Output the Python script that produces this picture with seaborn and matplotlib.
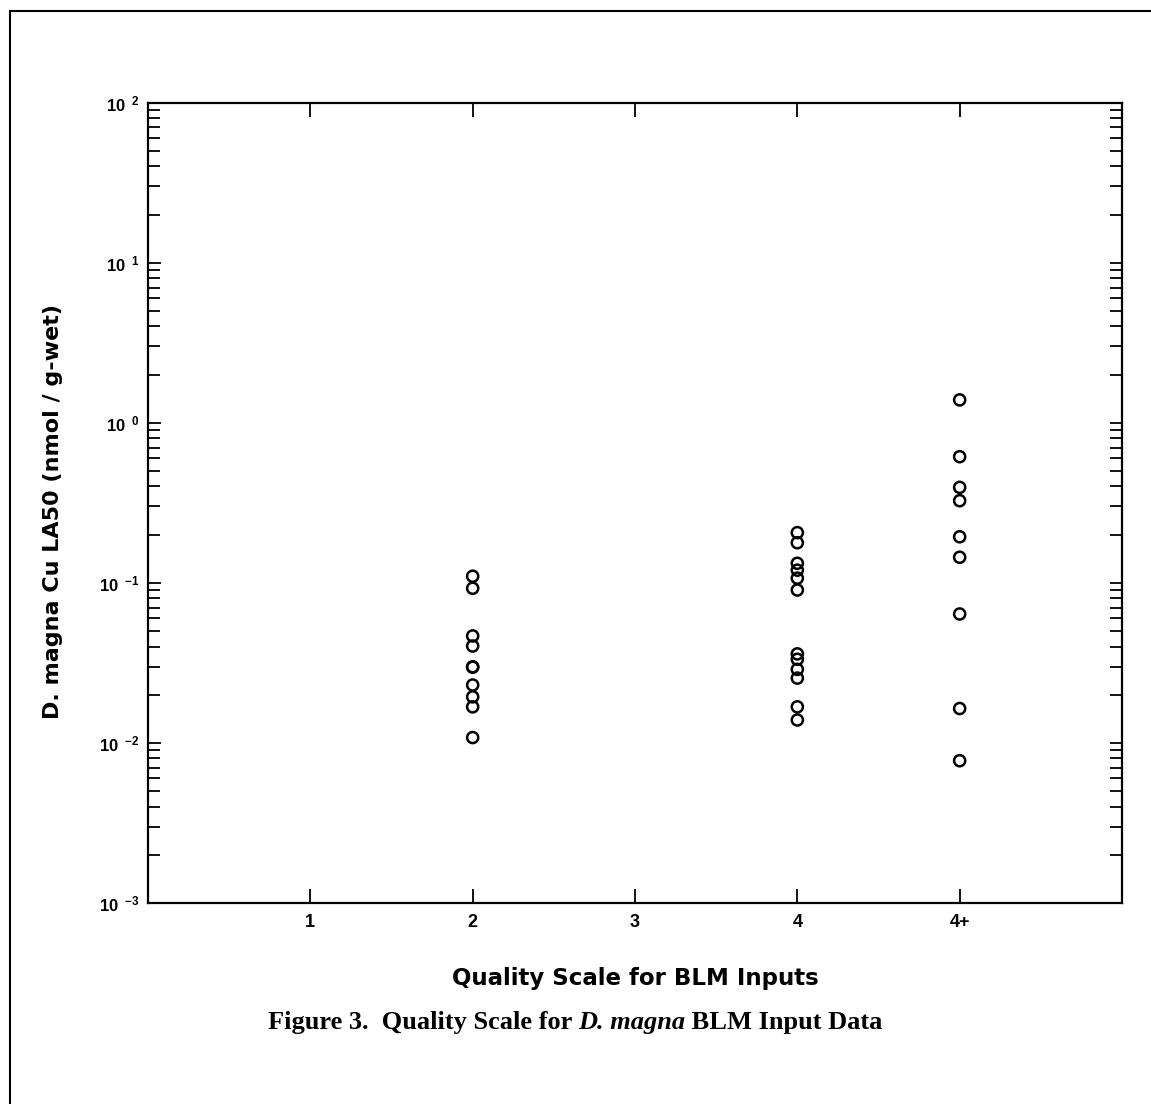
import numpy as np
import pandas as pd
import matplotlib
matplotlib.use("Agg")
import matplotlib.pyplot as plt
import matplotlib.ticker as mticker
from matplotlib.lines import Line2D
import seaborn as sns

# ---- data ----
categories = ["1", "2", "3", "4", "4+"]
q2_values = [0.110, 0.0925, 0.0466, 0.0403, 0.0299, 0.0297, 0.0230, 0.0194, 0.0168, 0.0108]
q4_values = [0.206, 0.178, 0.1325, 0.120, 0.107, 0.0902, 0.0360, 0.0333, 0.0288, 0.0254, 0.0168, 0.0139]
q4p_values = [1.39, 0.614, 0.395, 0.326, 0.194, 0.1445, 0.0639, 0.0164, 0.00774]
y_ticks = [1e-3, 1e-2, 1e-1, 1e0, 1e1, 1e2]

df = pd.DataFrame({
    "quality": ["2"] * len(q2_values) + ["4"] * len(q4_values) + ["4+"] * len(q4p_values),
    "la50": q2_values + q4_values + q4p_values,
})

sns.set_theme(style="white")
plt.rcParams["font.family"] = ["Liberation Sans", "DejaVu Sans"]
plt.rcParams["mathtext.fontset"] = "custom"
plt.rcParams["mathtext.rm"] = "Liberation Sans:bold"
plt.rcParams["mathtext.bf"] = "Liberation Sans:bold"
plt.rcParams["mathtext.it"] = "Liberation Sans:bold"
plt.rcParams["mathtext.sf"] = "Liberation Sans:bold"
for key in ["text.color", "axes.labelcolor", "xtick.color", "ytick.color", "axes.edgecolor"]:
    plt.rcParams[key] = "black"

fig = plt.figure(figsize=(11.51, 11.04), dpi=100)
fig.patch.set_facecolor("white")
ax = fig.add_axes([0.1286, 0.1821, 0.9748 - 0.1286, 0.907 - 0.1821])

sns.stripplot(data=df, x="quality", y="la50", order=categories, jitter=False,
              color="black", size=8, linewidth=1.8, edgecolor="black", ax=ax)
for coll in ax.collections:
    coll.set_facecolor("none")
    coll.set_edgecolor("black")

ax.set_yscale("log")
ax.set_ylim(1e-3, 1e2)
ax.set_xlim(-1, 5)
ax.set_xticks(range(len(categories)))
ax.set_xticklabels(categories, fontsize=13, fontweight="bold", color="black")

ax.yaxis.set_major_locator(mticker.FixedLocator(y_ticks))
ax.yaxis.set_minor_locator(mticker.LogLocator(base=10, subs=np.arange(2, 10), numticks=50))
ax.yaxis.set_minor_formatter(mticker.NullFormatter())
ax.yaxis.set_major_formatter(mticker.FuncFormatter(
    lambda v, _: r"$\mathbf{10}^{\ \ \mathbf{%d}}$" % int(round(np.log10(v)))))
for lbl in ax.get_yticklabels():
    lbl.set_fontsize(12)
    lbl.set_color("black")

for s in ax.spines.values():
    s.set_linewidth(1.6)
    s.set_color("black")
    s.set_visible(True)

ax.tick_params(axis="both", which="both", direction="in", top=True, right=True,
               bottom=True, left=True, color="black", width=1.3, labelcolor="black")
ax.tick_params(axis="x", which="major", length=10, pad=8)
ax.tick_params(axis="y", which="major", length=9, pad=6)
ax.tick_params(axis="y", which="minor", length=8.5)
ax.grid(False)

ax.set_xlabel("Quality Scale for BLM Inputs", fontsize=16.5, fontweight="bold",
              family=["DejaVu Sans"], labelpad=26, color="black")
ax.set_ylabel("D. magna Cu LA50 (nmol / g-wet)", fontsize=16, fontweight="bold",
              family=["DejaVu Sans"], color="black")
ax.yaxis.set_label_coords(-0.087, 0.489)

# page border lines
fig.add_artist(Line2D([10 / 1151, 1.0], [1 - 11 / 1104, 1 - 11 / 1104], transform=fig.transFigure,
                      color="black", lw=1.5))
fig.add_artist(Line2D([10 / 1151, 10 / 1151], [0.0, 1 - 11 / 1104], transform=fig.transFigure,
                      color="black", lw=1.5))

# caption with mixed italic
parts = [("Figure 3.  Quality Scale for ", "normal"), ("D. magna", "italic"), (" BLM Input Data", "normal")]
fig.canvas.draw()
renderer = fig.canvas.get_renderer()
texts = []
widths = []
for txt, style in parts:
    t = fig.text(0, 1 - 1022 / 1104, txt, fontsize=19, fontweight="bold", fontstyle=style,
                 family=["Liberation Serif", "DejaVu Serif"], va="center", ha="left", color="black")
    bb = t.get_window_extent(renderer=renderer)
    texts.append(t)
    widths.append(bb.width)
total = sum(widths)
x0 = (575 - total / 2) / 1151
fw = fig.bbox.width
for t, w in zip(texts, widths):
    t.set_x(x0)
    x0 += w / fw

fig.savefig("out.png", dpi=100, facecolor="white")
